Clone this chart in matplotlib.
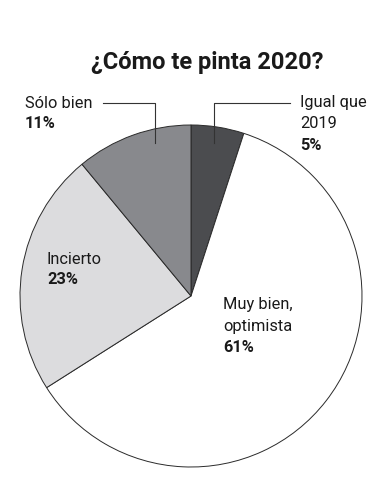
import matplotlib.pyplot as plt

# data
labels = ['Igual que\n2019', 'Muy bien,\noptimista', 'Incierto', 'Sólo bien']
values = [5, 61, 23, 11]
colors = ['#4b4c4f', '#ffffff', '#dcdcde', '#88898d']
title = '¿Cómo te pinta 2020?'

W, H = 389, 500
plt.rcParams['font.family'] = ['Roboto', 'DejaVu Sans']

fig = plt.figure(figsize=(W / 100, H / 100), dpi=100)
ax = fig.add_axes([0, 0, 1, 1])

# pie in pixel-like coords (y up)
cx, cy, r = 191, H - 296, 171
ax.pie(values, startangle=90, counterclock=False, colors=colors,
       center=(cx, cy), radius=r,
       wedgeprops=dict(edgecolor='#2a2a2a', linewidth=0.7))
ax.set_xlim(0, W)
ax.set_ylim(0, H)
ax.axis('off')

ax.text(207, H - 62, title, ha='center', va='center', fontsize=17,
        fontweight='bold', color='#1a1a1a')

txt = dict(fontsize=11.8, color='#1a1a1a', va='center', ha='left')
bold = dict(txt, fontweight='bold')


def label(x, y, name, pct):
    lines = name.split('\n')
    for i, s in enumerate(lines):
        ax.text(x, H - (y + i * 21), s, **txt)
    ax.text(x, H - (y + len(lines) * 21), pct, **bold)


label(300, 103, labels[0], f'{values[0]}%')
label(223, 305, labels[1], f'{values[1]}%')
label(47, 259, labels[2], f'{values[2]}%')
label(25, 103, labels[3], f'{values[3]}%')

# leader lines
lc = dict(color='#333333', linewidth=0.8)
ax.plot([103, 155, 155], [H - 103, H - 103, H - 143], **lc)
ax.plot([290, 214, 214], [H - 103, H - 103, H - 143], **lc)

fig.savefig('out.png', dpi=100, facecolor='white')
